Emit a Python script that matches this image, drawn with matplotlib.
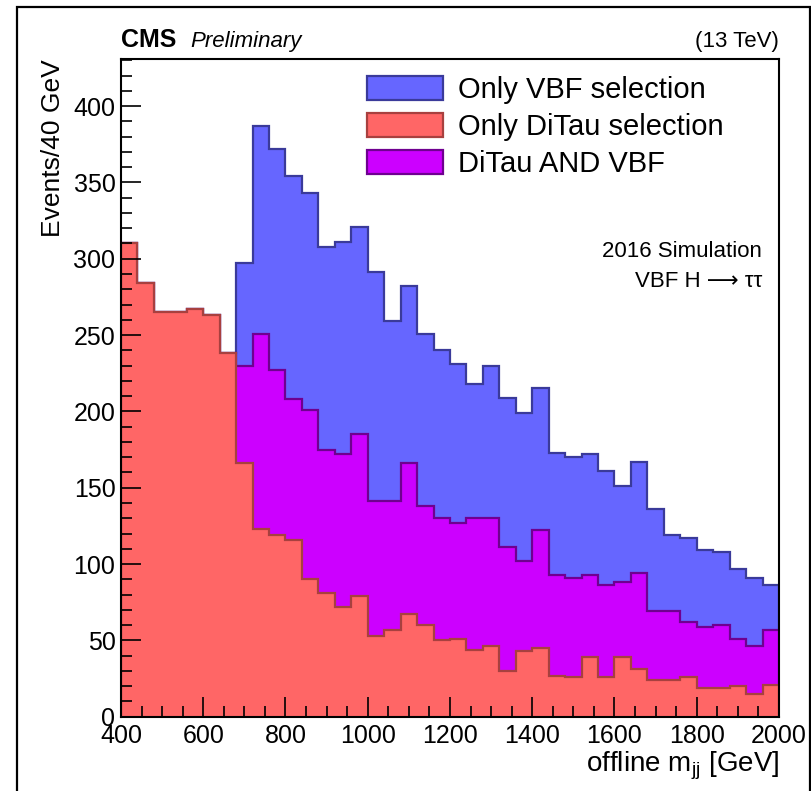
import numpy as np
import matplotlib
matplotlib.use('Agg')
import matplotlib.pyplot as plt
from matplotlib.patches import Patch, Rectangle
from matplotlib.ticker import MultipleLocator

# ----- Data (events per 40 GeV bin) ----- #
bin_edges = np.arange(400, 2001, 40)

# Only DiTau selection (bottom of the stack)
only_ditau = [310, 284, 265, 265, 267, 263, 238, 166, 123, 119,
              116, 90, 81, 72, 79, 53, 57, 67, 60, 50,
              51, 44, 46, 30, 43, 45, 27, 26, 39, 26,
              39, 31, 24, 24, 26, 19, 19, 20, 15, 21]

# DiTau AND VBF (middle of the stack)
ditau_and_vbf = [0, 0, 0, 0, 0, 0, 0, 64, 128, 108,
                 92, 111, 94, 100, 106, 88, 84, 99, 78, 80,
                 76, 86, 84, 81, 59, 77, 66, 65, 54, 60,
                 49, 63, 45, 45, 36, 40, 41, 31, 31, 36]

# Only VBF selection (top of the stack)
only_vbf = [0, 0, 0, 0, 0, 0, 0, 67, 136, 145,
            146, 142, 133, 139, 136, 150, 118, 116, 113, 110,
            104, 88, 100, 98, 97, 93, 80, 79, 79, 75,
            63, 73, 67, 50, 55, 50, 48, 46, 45, 29]

legend_labels = ['Only VBF selection', 'Only DiTau selection', 'DiTau AND VBF']

# Colours (ROOT-like)
col_vbf, edge_vbf = '#6666ff', '#3a3a9a'
col_ditau, edge_ditau = '#ff6666', '#a8403f'
col_both, edge_both = '#cc00ff', '#6f0090'

plt.rcParams['font.family'] = ['Liberation Sans', 'DejaVu Sans']
plt.rcParams['mathtext.fontset'] = 'custom'
plt.rcParams['mathtext.rm'] = 'Liberation Sans'

fig = plt.figure(figsize=(8.11, 7.91), dpi=100)
ax = fig.add_axes([0.1492, 0.0939, 0.8113, 0.8309])

# Stack: cumulative sums, drawn from the top down (like THStack)
red = np.array(only_ditau, dtype=float)
mid = red + np.array(ditau_and_vbf, dtype=float)
top = mid + np.array(only_vbf, dtype=float)

ax.stairs(top, bin_edges, baseline=0, fill=True, facecolor=col_vbf,
          edgecolor=edge_vbf, linewidth=1.6)
ax.stairs(mid, bin_edges, baseline=0, fill=True, facecolor=col_both,
          edgecolor=edge_both, linewidth=1.6)
ax.stairs(red, bin_edges, baseline=0, fill=True, facecolor=col_ditau,
          edgecolor=edge_ditau, linewidth=1.6)

ax.set_xlim(400, 2000)
ax.set_ylim(0, 430.5)

# Ticks
ax.xaxis.set_major_locator(MultipleLocator(200))
ax.xaxis.set_minor_locator(MultipleLocator(50))
ax.yaxis.set_major_locator(MultipleLocator(50))
ax.yaxis.set_minor_locator(MultipleLocator(10))
ax.tick_params(which='both', direction='in', top=False, right=False,
               width=1.2, color='black')
ax.tick_params(which='major', length=14.5, labelsize=18, pad=4)
ax.tick_params(which='minor', length=8)
ax.tick_params(axis='x', pad=5)
for s in ax.spines.values():
    s.set_linewidth(1.5)

# Axis titles
ax.set_ylabel('Events/40 GeV', fontsize=19, loc='top', labelpad=6)
ax.set_xlabel(r'offline m$_{\mathregular{jj}}$ [GeV]', fontsize=20,
              loc='right', labelpad=1)

# Legend
handles = [Patch(facecolor=col_vbf, edgecolor=edge_vbf, linewidth=1.6),
           Patch(facecolor=col_ditau, edgecolor=edge_ditau, linewidth=1.6),
           Patch(facecolor=col_both, edgecolor=edge_both, linewidth=1.6)]
ax.legend(handles, legend_labels, loc='upper left',
          bbox_to_anchor=(0.363, 0.986), frameon=False, fontsize=21,
          handlelength=2.6, handleheight=0.9, handletextpad=0.5,
          labelspacing=0.3, borderpad=0.25, borderaxespad=0)

# Annotations
ax.text(0.974, 0.708, '2016 Simulation', transform=ax.transAxes,
        ha='right', va='center', fontsize=16)
ax.text(0.974, 0.662, 'VBF H \u27f6 \u03c4\u03c4', transform=ax.transAxes,
        ha='right', va='center', fontsize=16)

ax.text(0.0, 1.012, 'CMS', transform=ax.transAxes, ha='left',
        va='bottom', fontsize=18, fontweight='bold')
ax.text(0.105, 1.012, 'Preliminary', transform=ax.transAxes, ha='left',
        va='bottom', fontsize=16, fontstyle='italic')
ax.text(1.0, 1.012, '(13 TeV)', transform=ax.transAxes, ha='right',
        va='bottom', fontsize=16)

# Outer frame of the canvas
fig.patches.append(Rectangle((17 / 811, -0.05), (810 - 17) / 811,
                             1.05 - 7 / 791, transform=fig.transFigure,
                             fill=False, edgecolor='black', linewidth=1.6))

fig.savefig('out.png', dpi=100)
